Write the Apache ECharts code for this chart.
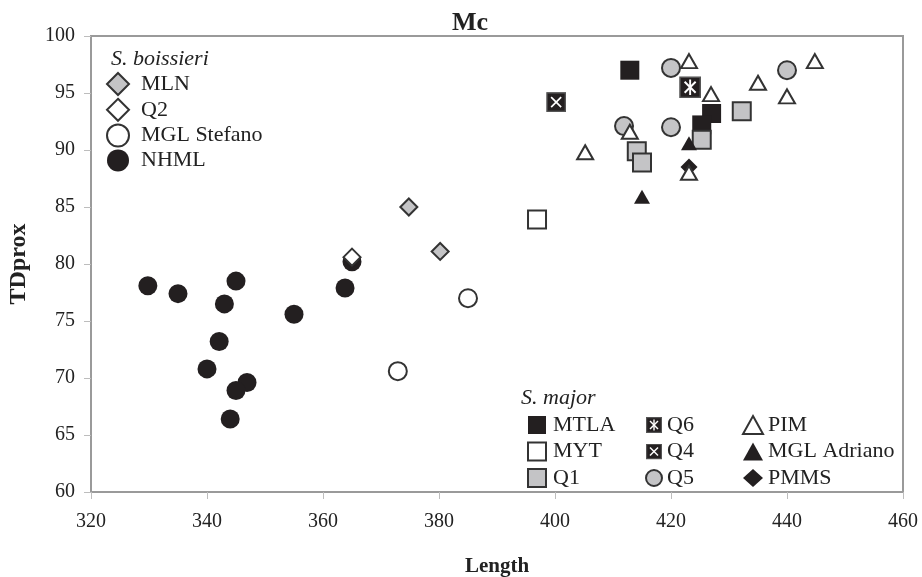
<!DOCTYPE html>
<html>
<head>
<meta charset="utf-8">
<script src="https://cdn.jsdelivr.net/npm/echarts@6/dist/echarts.min.js"></script>
<style>
  html, body { margin: 0; padding: 0; background: #fff; }
  #chart { width: 922px; height: 577px; }
</style>
</head>
<body>
<div id="chart"></div>
<script>
// ---- Data: [Length, TDprox] ----
// S. boissieri
const MLN = [[374.8, 85.0], [380.2, 81.1]];
const Q2 = [[365.0, 80.6]];
const MGL_Stefano = [[385.0, 77.0], [372.9, 70.6]];
const NHML = [
  [329.8, 78.1], [335.0, 77.4], [345.0, 78.5], [343.0, 76.5], [342.1, 73.2],
  [340.0, 70.8], [346.9, 69.6], [345.0, 68.9], [344.0, 66.4], [355.0, 75.6],
  [363.8, 77.9], [365.0, 80.2]
];
// S. major
const MTLA = [[412.9, 97.0], [427.0, 93.2], [425.3, 92.2]];
const MYT = [[396.9, 83.9]];
const Q1 = [[425.3, 90.9], [414.1, 89.9], [415.0, 88.9], [432.2, 93.4]];
const Q6 = [[423.3, 95.5]];
const Q4 = [[400.2, 94.2]];
const Q5 = [[420.0, 97.2], [440.0, 97.0], [411.9, 92.1], [420.0, 92.0]];
const PIM = [
  [423.1, 97.8], [444.8, 97.8], [435.0, 95.9], [440.0, 94.7], [426.9, 94.9],
  [412.9, 91.6], [405.2, 89.8], [423.1, 88.0]
];
const MGL_Adriano = [[423.1, 90.6], [415.0, 85.9]];
const PMMS = [[423.1, 88.5]];

const legendBoissieri = ['MLN', 'Q2', 'MGL Stefano', 'NHML'];
const legendMajorCol1 = ['MTLA', 'MYT', 'Q1'];
const legendMajorCol2 = ['Q6', 'Q4', 'Q5'];
const legendMajorCol3 = ['PIM', 'MGL Adriano', 'PMMS'];

const xTicks = { min: 320, max: 460, interval: 20 };
const yTicks = { min: 60, max: 100, interval: 5 };

// ---- Styling ----
const FONT = '"Liberation Serif", "Times New Roman", serif';
const DARK = '#231f20';
const EDGE = '#333333';
const GREY = '#c4c4c6';

// Square markers with white cross / asterisk drawn as inline SVG
function svgSymbol(inner) {
  const svg = '<svg xmlns="http://www.w3.org/2000/svg" width="40" height="40" viewBox="0 0 40 40">' +
    '<rect x="1.5" y="1.5" width="37" height="37" fill="' + DARK + '" stroke="#555" stroke-width="3"/>' +
    inner + '</svg>';
  return 'image://data:image/svg+xml;charset=utf-8,' + encodeURIComponent(svg);
}
const crossLines = '<line x1="10" y1="10" x2="30" y2="30" stroke="#fff" stroke-width="3.5"/>' +
                   '<line x1="30" y1="10" x2="10" y2="30" stroke="#fff" stroke-width="3.5"/>';
const starLines = crossLines + '<line x1="20" y1="6" x2="20" y2="34" stroke="#fff" stroke-width="3.5"/>';
const SYM_Q4 = svgSymbol(crossLines);
const SYM_Q6 = svgSymbol(starLines);

function scatter(name, data, symbol, size, fill, stroke, bw) {
  return {
    name: name,
    type: 'scatter',
    data: data,
    symbol: symbol,
    symbolSize: size,
    itemStyle: { color: fill, borderColor: stroke, borderWidth: bw, opacity: 1 },
    emphasis: { disabled: true }
  };
}

const series = [
  scatter('NHML', NHML, 'circle', 19, DARK, DARK, 0),
  scatter('MGL Stefano', MGL_Stefano, 'circle', 18, '#fff', EDGE, 2),
  scatter('MLN', MLN, 'diamond', [17, 17], GREY, EDGE, 2),
  scatter('Q2', Q2, 'diamond', [17, 17], '#fff', EDGE, 2),
  scatter('MYT', MYT, 'rect', 18, '#fff', EDGE, 2),
  scatter('Q4', Q4, SYM_Q4, 20, DARK, DARK, 0),
  scatter('Q6', Q6, SYM_Q6, 22, DARK, DARK, 0),
  scatter('MTLA', MTLA, 'rect', 19, DARK, DARK, 0),
  scatter('Q1', Q1, 'rect', 18, GREY, EDGE, 2),
  scatter('Q5', Q5, 'circle', 18, GREY, EDGE, 2),
  scatter('PMMS', PMMS, 'diamond', [17, 17], DARK, DARK, 0),
  scatter('PIM', PIM, 'triangle', [16, 14], '#fff', EDGE, 2),
  scatter('MGL Adriano', MGL_Adriano, 'triangle', [16, 14], DARK, DARK, 0)
];

const legendText = { fontFamily: FONT, fontSize: 22, lineHeight: 22, color: '#222' };

function legend(data, left, top, w, h, gap, textPad) {
  return {
    data: data,
    orient: 'vertical',
    left: left,
    top: top,
    itemWidth: w,
    itemHeight: h,
    itemGap: gap,
    padding: 0,
    selectedMode: false,
    textStyle: Object.assign({ padding: [0, 0, 0, textPad] }, legendText)
  };
}

const chart = echarts.init(document.getElementById('chart'), null, { renderer: 'canvas' });
chart.setOption({
  backgroundColor: '#fff',
  animation: false,
  grid: {
    left: 91, right: 19, top: 36, bottom: 85,
    outerBoundsMode: 'none',
    containLabel: false,
    show: true, borderColor: '#9a9a9a', borderWidth: 2
  },
  xAxis: {
    type: 'value',
    min: xTicks.min, max: xTicks.max, interval: xTicks.interval,
    name: 'Length',
    nameLocation: 'middle',
    nameGap: 64,
    nameTextStyle: { fontFamily: FONT, fontSize: 21, fontWeight: 'bold', color: '#222' },
    axisLine: { show: true, lineStyle: { color: '#9a9a9a', width: 2 } },
    axisTick: { show: true, length: 7, lineStyle: { color: '#bdbdbd', width: 1 } },
    axisLabel: { margin: 20, fontFamily: FONT, fontSize: 20, color: '#222' },
    splitLine: { show: false }
  },
  yAxis: {
    type: 'value',
    min: yTicks.min, max: yTicks.max, interval: yTicks.interval,
    name: 'TDprox',
    nameLocation: 'middle',
    nameGap: 60,
    nameTextStyle: { fontFamily: FONT, fontSize: 24, fontWeight: 'bold', color: '#222' },
    axisLine: { show: true, lineStyle: { color: '#9a9a9a', width: 2 } },
    axisTick: { show: true, length: 7, lineStyle: { color: '#bdbdbd', width: 1 } },
    axisLabel: { margin: 16, fontFamily: FONT, fontSize: 20, color: '#222' },
    splitLine: { show: false }
  },
  legend: [
    legend(legendBoissieri, 106, 72, 22, 22, 1.8, 7),
    legend(legendMajorCol1, 527, 414, 18, 18, 4.5, 2),
    legend(legendMajorCol2, 645, 414, 16, 16, 4.5, 0),
    legend(legendMajorCol3, 742, 414, 20, 18, 4.5, 0)
  ],
  graphic: [
    { type: 'text', left: 452, top: 10, style: { text: 'Mc', font: 'bold 26px ' + FONT, fill: '#222' } },
    { type: 'text', left: 111, top: 48, style: { text: 'S. boissieri', font: 'italic 22px ' + FONT, fill: '#222' } },
    { type: 'text', left: 521, top: 387, style: { text: 'S. major', font: 'italic 22px ' + FONT, fill: '#222' } }
  ],
  series: series
});
</script>
</body>
</html>
